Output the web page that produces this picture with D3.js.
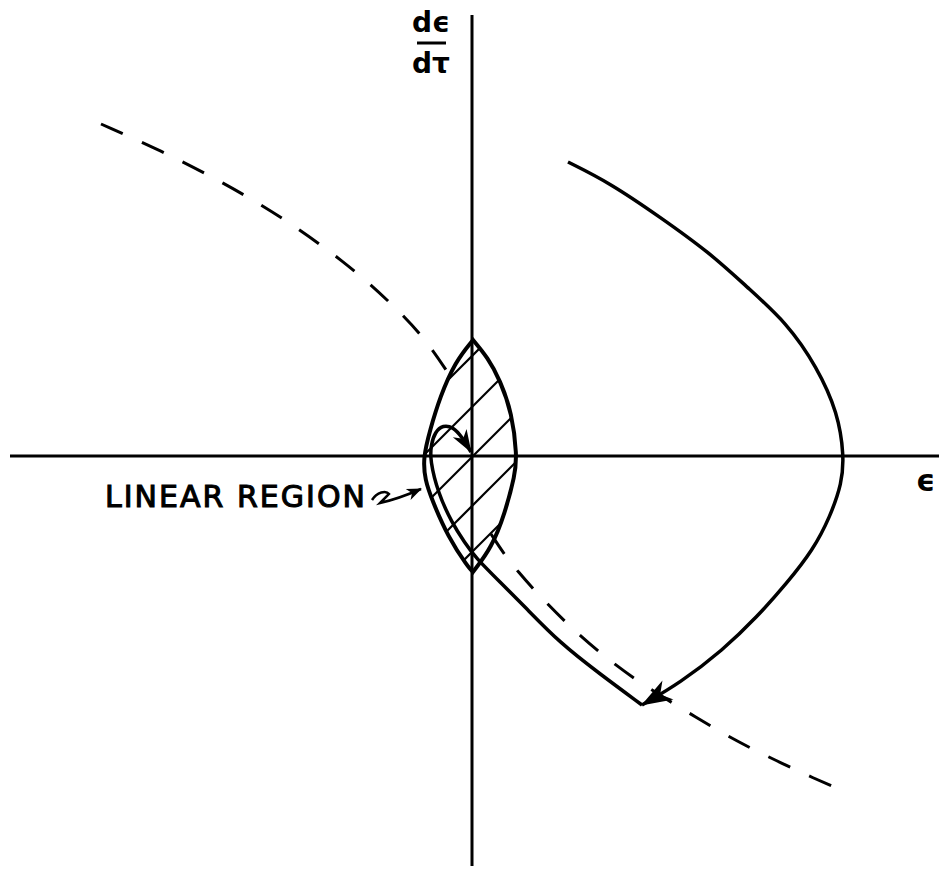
<!DOCTYPE html>
<html>
<head>
<meta charset="utf-8">
<script src="https://cdn.jsdelivr.net/npm/d3@7"></script>
<style>
  html, body { margin: 0; padding: 0; background: #fff; }
  svg { display: block; }
  text { font-family: "DejaVu Sans", sans-serif; fill: #000; }
</style>
</head>
<body>
<svg id="chart" width="939" height="890"></svg>
<script>
// Phase plane: error ε (horizontal) against its rate dε/dτ (vertical).

// Switching curve (dashed), upper-left branch and lower-right branch
const switchUpper = [
  [-37.1, 33.2], [-31.2, 30.6], [-24.8, 27.3], [-19.0, 23.9], [-12.7, 19.4],
  [-8.4, 15.6], [-4.7, 11.8], [-2.2, 8.0]
];
const switchLower = [
  [1.9, -7.8], [4.1, -11.2], [9.8, -17.2], [14.3, -20.9], [17.6, -23.2],
  [22.5, -26.2], [26.6, -28.6], [30.3, -30.4], [34.1, -32.2], [37.6, -33.7]
];

// Trajectory: first arc, from the start point to the switching curve
const trajArc1 = [
  [9.6, 29.4], [13.8, 27.3], [18.8, 23.9], [23.8, 20.3], [27.5, 16.9],
  [31.5, 13.3], [34.5, 8.9], [36.6, 4.3], [37.2, 0.0], [37.0, -2.7],
  [35.8, -6.1], [34.1, -9.4], [31.5, -12.7], [28.5, -16.1], [25.1, -19.4],
  [20.8, -22.7], [17.0, -24.9]
];
// Trajectory: second arc, from the switch point into the origin
const trajArc2 = [
  [17.0, -24.9], [12.8, -21.8], [8.8, -18.7], [5.3, -15.1], [2.8, -12.6],
  [0.3, -10.1], [-0.7, -8.7], [-2.0, -6.7], [-3.4, -3.7], [-4.2, -0.4],
  [-4.1, 1.1], [-3.7, 2.4], [-2.9, 3.1], [-1.9, 2.9], [-1.0, 1.9], [-0.1, 0.4]
];

// Linear region boundary (lens), left and right arcs
const lensLeft = [
  [0.1, 11.6], [-1.7, 9.4], [-3.2, 5.9], [-4.2, 2.6], [-4.9, -0.2],
  [-4.7, -2.4], [-4.0, -4.4], [-2.4, -8.1], [-0.4, -11.1], [0.1, -11.6]
];
const lensRight = [
  [0.1, -11.6], [2.0, -9.1], [3.3, -5.7], [4.3, -1.9], [4.5, 0.0],
  [4.0, 4.3], [2.8, 7.6], [1.6, 9.8], [0.1, 11.6]
];
// Hatch lines inside the linear region: dε/dτ-intercepts of 45° lines
const hatchIntercepts = [10.0, 4.9, -0.1, -5.0, -9.6];

// Text labels
const yAxisTop = "dϵ";
const yAxisBottom = "dτ";
const xAxisLabel = "ϵ";
const regionLabel = "LINEAR REGION";

const svg = d3.select("#chart");
const W = 939, H = 890;

const x = d3.scaleLinear().domain([-47.2, 46.7]).range([0, W]);
const y = d3.scaleLinear().domain([45.6, -43.4]).range([0, H]);

const smooth = d3.line().x(d => x(d[0])).y(d => y(d[1])).curve(d3.curveBasis);

// Arrowhead markers
const defs = svg.append("defs");
function arrowMarker(id, len, half) {
  defs.append("marker")
    .attr("id", id)
    .attr("markerUnits", "userSpaceOnUse")
    .attr("viewBox", `${-len - 1} ${-half - 1} ${len + 3} ${2 * half + 2}`)
    .attr("refX", 0).attr("refY", 0)
    .attr("markerWidth", len + 3).attr("markerHeight", 2 * half + 2)
    .attr("orient", "auto")
    .append("path")
    .attr("d", `M1,0 L${-len},${-half} L${-len * 0.7},0 L${-len},${half} Z`)
    .attr("fill", "#000");
}
arrowMarker("arrowBig", 30, 11);
arrowMarker("arrowMid", 22, 8);
arrowMarker("arrowSmall", 14, 6);

// Axes through the origin
svg.append("line")
  .attr("x1", 10).attr("x2", W)
  .attr("y1", y(0)).attr("y2", y(0))
  .attr("stroke", "#000").attr("stroke-width", 3);
svg.append("line")
  .attr("x1", x(0)).attr("x2", x(0))
  .attr("y1", 15).attr("y2", 866)
  .attr("stroke", "#000").attr("stroke-width", 3);

// Lens-shaped linear region
const lensPath = smooth(lensLeft) + smooth(lensRight).replace(/^M/, "L") + "Z";
defs.append("clipPath").attr("id", "lensClip")
  .append("path").attr("d", lensPath);

const hatch = svg.append("g").attr("clip-path", "url(#lensClip)");
hatch.selectAll("line")
  .data(hatchIntercepts)
  .join("line")
  .attr("x1", x(-15)).attr("y1", c => y(c - 15))
  .attr("x2", x(15)).attr("y2", c => y(c + 15))
  .attr("stroke", "#000").attr("stroke-width", 2.2);

svg.append("path")
  .attr("d", lensPath)
  .attr("fill", "none").attr("stroke", "#000")
  .attr("stroke-width", 4).attr("stroke-linejoin", "miter");

// Switching curve
[switchUpper, switchLower].forEach(seg => {
  svg.append("path")
    .attr("d", smooth(seg))
    .attr("fill", "none").attr("stroke", "#000")
    .attr("stroke-width", 3)
    .attr("stroke-dasharray", "24 21");
});

// Trajectory arcs
svg.append("path")
  .attr("d", smooth(trajArc1))
  .attr("fill", "none").attr("stroke", "#000").attr("stroke-width", 3.5)
  .attr("marker-end", "url(#arrowBig)");
svg.append("path")
  .attr("d", smooth(trajArc2))
  .attr("fill", "none").attr("stroke", "#000").attr("stroke-width", 3.5)
  .attr("marker-end", "url(#arrowMid)");

// Axis labels
const cx = x(-4.1);
svg.append("text").attr("x", cx).attr("y", 32)
  .attr("text-anchor", "middle").attr("font-size", 28).attr("font-weight", "bold")
  .text(yAxisTop);
svg.append("line")
  .attr("x1", cx - 14).attr("x2", cx + 15)
  .attr("y1", 43).attr("y2", 43)
  .attr("stroke", "#000").attr("stroke-width", 3);
svg.append("text").attr("x", cx).attr("y", 73)
  .attr("text-anchor", "middle").attr("font-size", 28).attr("font-weight", "bold")
  .text(yAxisBottom);
svg.append("text").attr("x", 916).attr("y", 491)
  .attr("font-size", 30).attr("font-weight", "bold")
  .text(xAxisLabel);

// Linear region callout
svg.append("text").attr("x", 105).attr("y", 507)
  .attr("font-size", 30)
  .attr("stroke", "#000").attr("stroke-width", 1.1)
  .attr("textLength", 260).attr("lengthAdjust", "spacing")
  .text(regionLabel);
svg.append("path")
  .attr("d", "M372,500 C377,492 386,490 389,494 L380,503 C393,500 405,496 421,489")
  .attr("fill", "none").attr("stroke", "#000").attr("stroke-width", 2.5)
  .attr("marker-end", "url(#arrowSmall)");
</script>
</body>
</html>
